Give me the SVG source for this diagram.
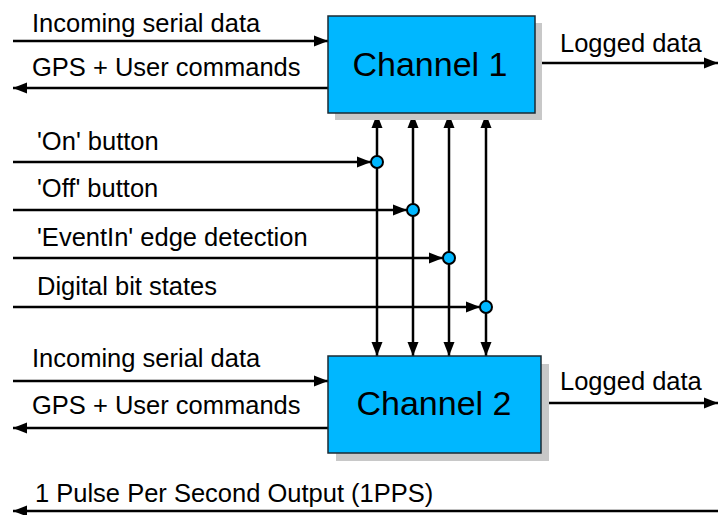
<svg xmlns="http://www.w3.org/2000/svg" width="720" height="515" viewBox="0 0 720 515">
<defs>
<marker id="arr" markerUnits="userSpaceOnUse" markerWidth="15" markerHeight="12" refX="14" refY="6" orient="auto-start-reverse" viewBox="0 0 15 12">
<path d="M0,0.5 L14,6 L0,11.5 z" fill="#000"/>
</marker>
<style>
.box{fill:#00b7ff;stroke:#1a2a33;stroke-width:1.5}
.shadow{fill:#c8c8c8}
.title{font-family:"Liberation Sans",Arial,sans-serif;font-size:34px;fill:#000;text-anchor:middle}
.lbl{font-family:"Liberation Sans",Arial,sans-serif;font-size:25.5px;fill:#000}
.ln{stroke:#000;stroke-width:2.5;fill:none}
.a{marker-end:url(#arr)}
.aa{marker-start:url(#arr);marker-end:url(#arr)}
.dot{fill:#00b7ff;stroke:#000;stroke-width:2}
</style>
</defs>
<rect width="720" height="515" fill="#fff"/>
<g id="connectors">
<line class="ln a" x1="13" y1="41" x2="328" y2="41"/>
<line class="ln a" x1="328" y1="88" x2="13" y2="88"/>
<line class="ln a" x1="535" y1="63" x2="718" y2="63"/>
<line class="ln a" x1="13" y1="381" x2="328" y2="381"/>
<line class="ln a" x1="328" y1="428" x2="13" y2="428"/>
<line class="ln a" x1="541" y1="403" x2="718" y2="403"/>
<line class="ln a" x1="718" y1="511" x2="13" y2="511"/>
<line class="ln aa" x1="377" y1="114" x2="377" y2="356"/>
<line class="ln aa" x1="413" y1="114" x2="413" y2="356"/>
<line class="ln aa" x1="449" y1="114" x2="449" y2="356"/>
<line class="ln aa" x1="486" y1="114" x2="486" y2="356"/>
<line class="ln a" x1="13" y1="162" x2="371" y2="162"/>
<line class="ln a" x1="13" y1="210" x2="407" y2="210"/>
<line class="ln a" x1="13" y1="258" x2="443" y2="258"/>
<line class="ln a" x1="13" y1="307" x2="480" y2="307"/>
<text class="lbl" x="32" y="32">Incoming serial data</text>
<text class="lbl" x="32" y="76">GPS + User commands</text>
<text class="lbl" x="560" y="52">Logged data</text>
<text class="lbl" x="37" y="150">'On' button</text>
<text class="lbl" x="37" y="197">'Off' button</text>
<text class="lbl" x="37" y="246">'EventIn' edge detection</text>
<text class="lbl" x="37" y="295">Digital bit states</text>
<text class="lbl" x="32" y="367">Incoming serial data</text>
<text class="lbl" x="32" y="414">GPS + User commands</text>
<text class="lbl" x="560" y="390">Logged data</text>
<text class="lbl" x="35" y="502">1 Pulse Per Second Output (1PPS)</text>
</g>
<g id="ch1">
<rect class="shadow" x="335" y="23" width="207" height="97"/>
<rect class="box" x="328" y="16" width="207" height="97"/>
<text class="title" x="430" y="76">Channel 1</text>
</g>
<g id="ch2">
<rect class="shadow" x="336" y="364" width="213" height="97"/>
<rect class="box" x="328" y="356" width="213" height="97"/>
<text class="title" x="434" y="415">Channel 2</text>
</g>
<g id="j1"><circle class="dot" cx="377" cy="162" r="6"/></g>
<g id="j2"><circle class="dot" cx="413" cy="210" r="6"/></g>
<g id="j3"><circle class="dot" cx="449" cy="258" r="6"/></g>
<g id="j4"><circle class="dot" cx="486" cy="307" r="6"/></g>
</svg>
